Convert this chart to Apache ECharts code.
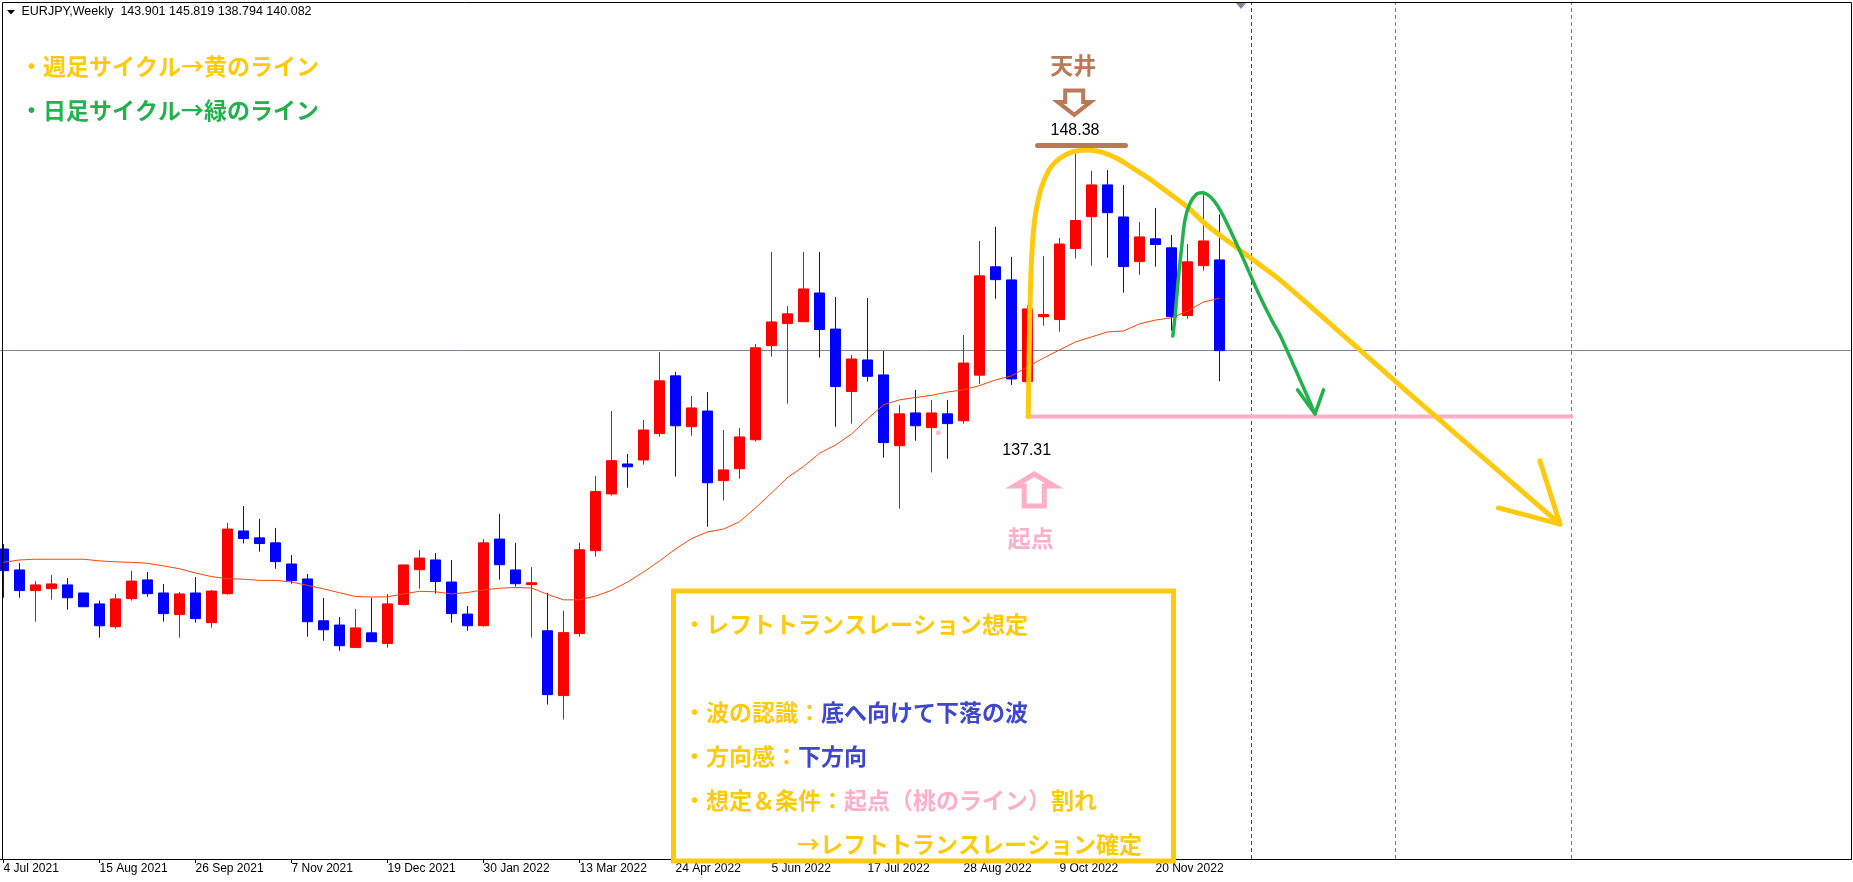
<!DOCTYPE html>
<html>
<head>
<meta charset="utf-8">
<script src="https://cdn.jsdelivr.net/npm/echarts@6/dist/echarts.min.js"></script>
<style>
html,body{margin:0;padding:0;background:#fff;}
#chart{width:1853px;height:882px;}
</style>
</head>
<body>
<div id="chart"></div>
<script>
// EURJPY weekly candles, 4 Jul 2021 .. 18 Dec 2022
const symbolTitle = 'EURJPY,Weekly  143.901 145.819 138.794 140.082';
const tickLabels = ['4 Jul 2021','15 Aug 2021','26 Sep 2021','7 Nov 2021','19 Dec 2021','30 Jan 2022',
  '13 Mar 2022','24 Apr 2022','5 Jun 2022','17 Jul 2022','28 Aug 2022','9 Oct 2022','20 Nov 2022'];

const open = [131.73,130.85,129.98,130.06,130.22,129.88,129.42,128.46,129.64,130.43,
  129.88,128.97,129.88,128.63,129.85,132.49,132.20,131.99,131.10,130.47,
  128.71,128.53,127.58,128.20,127.75,129.39,130.86,131.27,130.34,128.99,
  128.50,132.15,130.85,130.23,128.29,125.56,128.17,131.66,134.05,135.31,
  135.48,136.59,139.02,136.88,137.54,134.61,135.11,136.33,140.29,141.22,
  141.30,142.51,140.99,138.36,139.69,139.06,136.08,137.46,136.84,137.42,
  137.13,139.05,143.61,143.06,138.78,141.51,141.39,144.38,145.72,147.06,
  145.71,143.83,144.79,144.41,141.56,143.66,143.901];
const high = [131.94,131.14,130.38,130.64,130.51,129.88,129.56,129.84,130.81,130.76,
  130.26,129.92,130.55,130.01,132.83,133.54,133.00,132.62,131.48,130.68,
  129.67,128.87,129.21,129.68,129.84,131.06,131.69,131.56,131.27,129.33,
  132.15,133.21,131.99,130.97,129.89,129.13,132.00,134.81,137.54,135.73,
  137.16,140.03,139.19,138.17,138.34,136.74,136.83,140.36,144.24,141.96,
  144.24,144.24,142.34,139.90,142.30,140.07,137.80,138.43,138.01,138.01,
  140.74,144.70,145.30,144.03,142.00,144.07,144.83,148.38,147.65,147.69,
  147.06,145.50,146.09,144.95,144.57,146.81,145.819];
const low = [129.68,129.68,128.67,129.60,129.18,129.30,128.00,128.38,129.56,129.72,
  128.67,128.00,128.63,128.42,129.81,131.96,131.62,130.90,130.27,128.04,
  127.87,127.45,127.58,127.83,127.58,129.35,130.06,129.85,128.63,128.29,
  128.46,130.44,130.15,128.00,125.18,124.55,128.04,131.41,133.98,134.31,
  135.28,136.46,134.78,136.50,132.67,133.77,134.69,136.25,139.83,137.85,
  141.30,139.79,136.88,137.01,138.78,135.58,133.43,136.29,134.95,135.53,
  137.01,138.67,142.27,138.64,137.31,141.13,140.88,143.96,143.66,144.00,
  142.52,143.28,143.62,140.92,141.43,143.45,138.794];
const close = [130.82,129.98,130.22,130.26,129.68,129.30,128.50,129.63,130.38,129.85,
  129.01,129.84,128.80,129.96,132.57,132.17,131.96,131.20,130.40,128.67,
  128.33,127.66,128.41,127.83,129.42,131.06,131.35,130.36,129.01,128.50,
  131.99,131.07,130.27,130.31,125.60,128.21,131.70,134.15,135.45,135.19,
  136.74,138.81,136.92,137.67,134.52,135.06,136.45,140.20,141.29,141.63,
  142.68,140.97,138.57,139.73,139.00,136.21,137.42,136.92,137.46,137.01,
  139.56,143.23,143.07,138.89,141.84,141.60,144.57,145.56,147.06,145.89,
  143.62,144.87,144.55,141.51,143.82,144.70,140.082];
// moving average drawn over the candles
const ma = [131.17,131.27,131.30,131.30,131.30,131.30,131.23,131.19,131.17,131.13,
  131.02,130.90,130.72,130.57,130.48,130.46,130.41,130.41,130.34,130.20,
  130.05,129.89,129.73,129.71,129.72,129.84,129.95,129.93,129.84,129.90,
  130.01,130.08,130.11,130.09,129.82,129.59,129.59,129.75,129.99,130.34,
  130.76,131.23,131.73,132.17,132.45,132.57,132.88,133.46,134.09,134.74,
  135.20,135.76,136.11,136.57,137.21,137.80,138.01,138.11,138.20,138.34,
  138.43,138.61,138.85,139.02,139.40,139.77,140.11,140.45,140.66,140.87,
  140.91,141.21,141.37,141.46,141.75,142.13,142.29];

// vertical time markers (week slots, counted from the first candle)
const redMarkerSlots = [78];
const blueMarkerSlots = [87, 98];

// ceiling and starting point
const topIndex = 67, topPrice = 148.38;
const baseIndex = 64, basePrice = 137.31;
const baseLineEnd = 98;

// hand-drawn weekly cycle (yellow) and daily cycle (green), [week slot, price]
const weeklyPath = [[64.05,137.31],[64.11,140.25],[64.2,143.06],[64.36,145.04],[64.58,146.15],
  [64.89,146.99],[65.41,147.76],[66.03,148.18],[66.86,148.46],[67.7,148.53],[68.53,148.46],
  [69.57,148.18],[70.61,147.76],[71.66,147.30],[72.7,146.78],[73.95,146.15],[75.2,145.37],
  [76.86,144.53],[78.53,143.69],[79.78,143.06],[88.5,137.9],[97.28,132.78]];
const weeklyHead = [[96.03,135.44],[97.28,132.78],[93.44,133.46]];
const dailyPath = [[73.08,140.70],[73.22,141.51],[73.42,143.06],[73.64,144.46],[73.84,145.58],
  [74.16,146.29],[74.58,146.68],[74.89,146.73],[75.41,146.57],[76.03,146.01],[76.86,144.88],
  [77.7,143.62],[78.53,142.36],[79.36,141.24],[79.78,140.74],[81.97,137.42]];
const dailyHead = [[80.88,138.43],[81.97,137.42],[82.5,138.43]];
const strayDot = [[58.43,136.63]];

const SLOTS = 116;
const LABEL_STEP = 6;
const PRICE_MIN = 118.68, PRICE_MAX = 154.76;

const YELLOW = '#FFC90E', GREEN = '#22B14C', BLUE = '#3F48CC', PINK = '#FFAEC9', BROWN = '#B97A57';
const JP = '"Noto Sans CJK JP"';
const NUM = '"Liberation Sans", Arial, sans-serif';

const categories = Array.from({length: SLOTS}, (_, i) => String(i));
const showTick = (i) => i % LABEL_STEP === 0 && i / LABEL_STEP < tickLabels.length;
const candles = open.map((o, i) => [o, close[i], low[i], high[i]]);

function txt(text, x, y, font, fill, align) {
  return {type: 'text', silent: true, style: {
    text, x, y, font, fill,
    align: align || 'center', textAlign: align || 'center',
    verticalAlign: 'middle', textVerticalAlign: 'middle'
  }};
}

function renderMarks(params, api) {
  const p = api.coord([api.value(0), api.value(1)]);
  const x = p[0], y = p[1];
  if (api.value(2) === 0) {
    const cx = x - 1.3, top = y - 63, base = y - 51.6, tip = y - 38.6;
    return {type: 'group', children: [
      {type: 'line', shape: {x1: x - 38, y1: y - 8, x2: x + 50, y2: y - 8},
        style: {stroke: BROWN, lineWidth: 5, lineCap: 'round'}},
      txt(topPrice.toFixed(2), x - 0.5, y - 22.5, '16px ' + NUM, '#000'),
      {type: 'polygon', shape: {points: [[cx - 9, top], [cx + 9, top], [cx + 9, base], [cx + 16.5, base],
        [cx, tip], [cx - 16.5, base], [cx - 9, base]]},
        style: {fill: 'none', stroke: BROWN, lineWidth: 4}},
      txt('天井', x - 2.2, y - 88.6, 'bold 23px ' + JP, BROWN)
    ]};
  }
  const cx = x + 6.7, tip = y + 57.5, base = y + 69.5, bottom = y + 89.5;
  return {type: 'group', children: [
    txt(basePrice.toFixed(2), x - 0.8, y + 34.5, '16px ' + NUM, '#000'),
    {type: 'polygon', shape: {points: [[cx, tip], [cx + 20, base], [cx + 10, base], [cx + 10, bottom],
      [cx - 10, bottom], [cx - 10, base], [cx - 20, base]]},
      style: {fill: 'none', stroke: PINK, lineWidth: 5}},
    txt('起点', x + 3.2, y + 121.5, 'bold 23px ' + JP, PINK)
  ]};
}

function drawnLine(data, color, width, smooth, z) {
  return {type: 'line', xAxisIndex: 1, yAxisIndex: 0, data, smooth, showSymbol: false, silent: true,
    animation: false, z, lineStyle: {color, width, cap: 'round', join: 'round'}};
}

const markerLines = [
  {yAxis: close[close.length - 1], lineStyle: {color: '#778899', type: 'solid', width: 1}}
].concat(redMarkerSlots.map(s => ({xAxis: s, lineStyle: {color: '#FF0000', type: [4, 3], width: 1}})))
 .concat(blueMarkerSlots.map(s => ({xAxis: s, lineStyle: {color: '#1E90FF', type: [4, 3], width: 1}})));

const boxRich = {
  y: {fill: YELLOW, font: 'bold 23px ' + JP},
  b: {fill: BLUE, font: 'bold 23px ' + JP},
  p: {fill: PINK, font: 'bold 23px ' + JP}
};
function richLine(text, x, y) {
  return {type: 'text', z: 100, silent: true, style: {
    text, x, y, rich: boxRich, font: 'bold 23px ' + JP, fill: YELLOW,
    align: 'left', textAlign: 'left', verticalAlign: 'middle', textVerticalAlign: 'middle'}};
}

const chart = echarts.init(document.getElementById('chart'));
chart.setOption({
  animation: false,
  backgroundColor: '#fff',
  grid: {left: -4.5, right: 1.5, top: 2, bottom: 23, containLabel: false, outerBoundsMode: 'none'},
  xAxis: [
    {type: 'category', data: categories, boundaryGap: true,
      axisLine: {show: true, lineStyle: {color: '#000', width: 1}},
      axisTick: {show: true, alignWithLabel: true, interval: (i) => showTick(i), length: 4,
        lineStyle: {color: '#000', width: 1}},
      axisLabel: {show: true, interval: (i) => showTick(i), align: 'left', margin: 4,
        color: '#000', fontFamily: 'Liberation Sans', fontSize: 12,
        formatter: (v, i) => showTick(i) ? tickLabels[i / LABEL_STEP] : ''},
      splitLine: {show: false}},
    {type: 'value', min: -0.5, max: SLOTS - 0.5, show: false}
  ],
  yAxis: {type: 'value', min: PRICE_MIN, max: PRICE_MAX, show: false, scale: true,
    splitLine: {show: false}},
  series: [
    {type: 'candlestick', name: 'EURJPY', data: candles, barWidth: 10, z: 2, silent: true,
      itemStyle: {color: '#FF0000', color0: '#0000FF', borderColor: '#FF0000', borderColor0: '#0000FF',
        borderWidth: 1},
      markLine: {silent: true, z: 1, symbol: ['none', 'none'], label: {show: false}, animation: false,
        data: markerLines}},
    {type: 'line', name: 'MA', data: ma, showSymbol: false, silent: true, z: 3,
      lineStyle: {color: '#FF4500', width: 1}},
    drawnLine([[baseIndex, basePrice], [baseLineEnd, basePrice]], PINK, 4, false, 4),
    drawnLine(weeklyPath, YELLOW, 5, 0.35, 5),
    drawnLine(weeklyHead, YELLOW, 5, false, 5),
    drawnLine(dailyPath, GREEN, 3.5, 0.35, 6),
    drawnLine(dailyHead, GREEN, 3.5, false, 6),
    {type: 'scatter', xAxisIndex: 1, data: strayDot, symbolSize: 5, silent: true, z: 4,
      itemStyle: {color: PINK}},
    {type: 'custom', xAxisIndex: 1, yAxisIndex: 0, silent: true, z: 7,
      data: [[topIndex, topPrice, 0], [baseIndex, basePrice, 1]],
      renderItem: renderMarks}
  ],
  graphic: [
    {type: 'rect', z: 100, silent: true, shape: {x: 2.5, y: 2.5, width: 1849, height: 857},
      style: {fill: 'none', stroke: '#000', lineWidth: 1}},
    {type: 'polygon', z: 100, silent: true, shape: {points: [[7, 10], [15, 10], [11, 14.5]]},
      style: {fill: '#000'}},
    {type: 'text', z: 100, silent: true, style: {text: symbolTitle, x: 21.5, y: 12,
      font: '12.5px ' + NUM, fill: '#000', align: 'left', textAlign: 'left',
      verticalAlign: 'middle', textVerticalAlign: 'middle'}},
    {type: 'polygon', z: 100, silent: true, shape: {points: [[1236, 3], [1246, 3], [1241, 9]]},
      style: {fill: '#778899'}},
    richLine('{y|・週足サイクル→黄のライン}', 20, 66.5),
    {type: 'text', z: 100, silent: true, style: {text: '・日足サイクル→緑のライン', x: 20, y: 110,
      font: 'bold 23px ' + JP, fill: GREEN, align: 'left', textAlign: 'left',
      verticalAlign: 'middle', textVerticalAlign: 'middle'}},
    {type: 'rect', z: 100, silent: true, shape: {x: 673.5, y: 591, width: 500, height: 270},
      style: {fill: 'none', stroke: YELLOW, lineWidth: 5}},
    richLine('{y|・レフトトランスレーション想定}', 683, 624),
    richLine('{y|・波の認識：}{b|底へ向けて下落の波}', 683, 712.5),
    richLine('{y|・方向感：}{b|下方向}', 683, 756),
    richLine('{y|・想定＆条件：}{p|起点（桃のライン）}{y|割れ}', 683, 800),
    richLine('{y|→レフトトランスレーション確定}', 797, 844)
  ]
});
</script>
</body>
</html>
